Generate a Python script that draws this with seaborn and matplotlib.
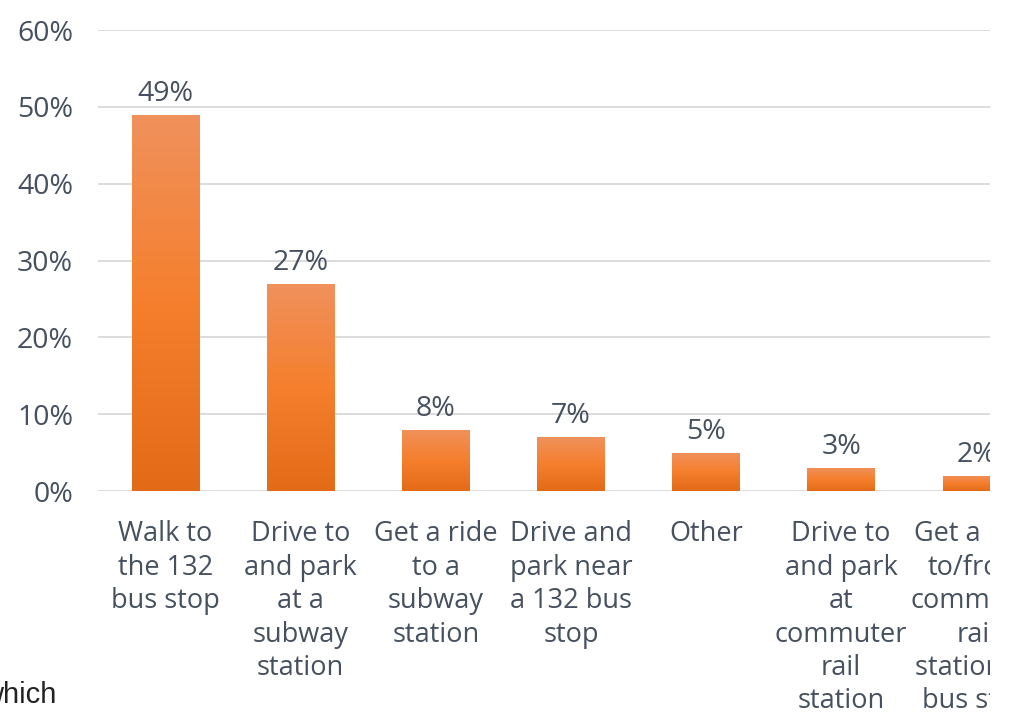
import matplotlib
matplotlib.use("Agg")
import matplotlib.pyplot as plt
import matplotlib.patches as mpatches
from matplotlib.colors import LinearSegmentedColormap
import numpy as np
import pandas as pd
import seaborn as sns

categories = [
    "Walk to\nthe 132\nbus stop",
    "Drive to\nand park\nat a\nsubway\nstation",
    "Get a ride\nto a\nsubway\nstation",
    "Drive and\npark near\na 132 bus\nstop",
    "Other",
    "Drive to\nand park\nat\ncommuter\nrail\nstation",
    "Get a ride\nto/from\ncommuter\nrail\nstation or\nbus stop",
]
shares = [49, 27, 8, 7, 5, 3, 2]
value_labels = ["49%", "27%", "8%", "7%", "5%", "3%", "2%"]
y_ticks = [0, 10, 20, 30, 40, 50, 60]
y_tick_labels = ["0%", "10%", "20%", "30%", "40%", "50%", "60%"]

df = pd.DataFrame({"mode": categories, "share": shares})

sns.set_theme(style="white")
plt.rcParams["font.family"] = ["Open Sans", "DejaVu Sans"]

text_color = "#46505E"
grid_color = "#DCDCDC"

fig = plt.figure(figsize=(10.1, 7.16), dpi=100)
ax = fig.add_axes([0.097, 0.3142, 0.883, 0.6438])

sns.barplot(data=df, x="mode", y="share", color="#F47F30", width=0.5,
            ax=ax, zorder=3)

ax.set_yticks(y_ticks)
ax.set_yticklabels(y_tick_labels)
ax.yaxis.grid(True, color=grid_color, linewidth=1.4, zorder=0)
ax.xaxis.grid(False)
for s in ax.spines.values():
    s.set_visible(False)
ax.set_xlabel("")
ax.set_ylabel("")
ax.tick_params(axis="y", length=0, pad=18, labelsize=20.5, labelcolor=text_color)
ax.tick_params(axis="x", length=0, pad=21, labelsize=19.5, labelcolor=text_color)
for lbl in ax.get_xticklabels():
    lbl.set_linespacing(1.26)
    lbl.set_horizontalalignment("center")

# vertical orange gradient inside each bar
grad = LinearSegmentedColormap.from_list(
    "bar_grad", ["#E36B18", "#F57F2D", "#F0915C"])
gradient = np.linspace(0, 1, 256).reshape(-1, 1)
for patch, lab in zip(ax.patches, value_labels):
    x0, y0 = patch.get_x(), patch.get_y()
    w, h = patch.get_width(), patch.get_height()
    im = ax.imshow(gradient, cmap=grad, origin="lower", aspect="auto",
                   extent=[x0, x0 + w, y0, y0 + h], zorder=4)
    im.set_clip_path(patch)
    ax.text(x0 + w / 2, y0 + h + 0.9, lab, ha="center", va="bottom",
            fontsize=20.5, color=text_color, zorder=5)
ax.set_xlim(-0.5, 6.1)
ax.set_ylim(0, 60)

# fragment of neighbouring text at the lower left
fig.text(-0.018, 0.018, "which", fontsize=21, color="#222222",
         family=["Liberation Sans", "DejaVu Sans"],
         ha="left", va="baseline")

# blank band on the right edge
fig.add_artist(mpatches.Rectangle((990 / 1010, 0), 20 / 1010, 1,
                                  transform=fig.transFigure,
                                  facecolor="white", edgecolor="none",
                                  zorder=10))

fig.savefig("out.png", dpi=100, facecolor="white")
